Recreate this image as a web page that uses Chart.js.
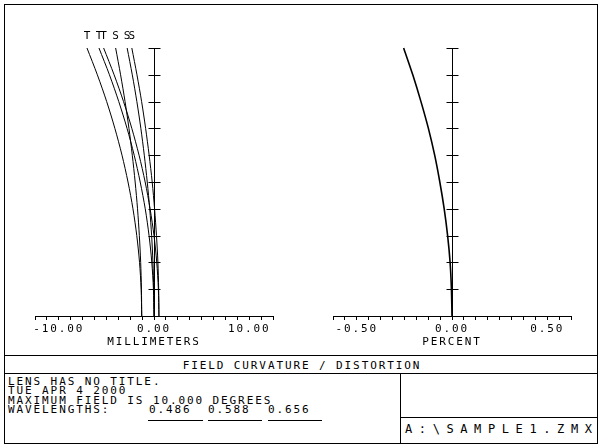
<!DOCTYPE html>
<html lang="en">
<head>
  <meta charset="UTF-8" />
  <title>Field Curvature / Distortion</title>
  <script src="https://cdn.jsdelivr.net/npm/chart.js"></script>
  <style>
    body { margin: 0; background: #fff; }
    #page { position: relative; width: 600px; height: 447px; overflow: hidden;
            font-family: "DejaVu Sans Mono", monospace; font-size: 11px; color: #000; }
    .frame { position: absolute; left: 4px; top: 4px; width: 592px; height: 438px; border: 1px solid #000; }
    .hline { position: absolute; height: 1px; background: #000; }
    .vline { position: absolute; width: 1px; background: #000; }
    .txt { position: absolute; white-space: pre; letter-spacing: 1.9px; line-height: 11px; }
    canvas { position: absolute; }
  </style>
</head>
<body>
<div id="page">
  <div class="frame"></div>

  <canvas id="curvChart" width="290" height="348" style="left:5px; top:5px;"></canvas>
  <canvas id="distChart" width="290" height="348" style="left:303px; top:5px;"></canvas>

  <!-- info block -->
  <div class="hline" style="left:4px; top:355px; width:593px;"></div>
  <div class="txt" style="left:0; top:360px; width:604px; text-align:center;">FIELD CURVATURE / DISTORTION</div>
  <div class="hline" style="left:4px; top:373px; width:593px;"></div>
  <div class="vline" style="left:400px; top:373px; height:70px;"></div>
  <div class="hline" style="left:400px; top:417px; width:197px;"></div>

  <div class="txt" style="left:8px; top:376px;">LENS HAS NO TITLE.</div>
  <div class="txt" style="left:8px; top:385px;">TUE APR 4 2000</div>
  <div class="txt" style="left:8px; top:395px;">MAXIMUM FIELD IS 10.000 DEGREES</div>
  <div class="txt" style="left:8px; top:404px;">WAVELENGTHS:</div>
  <div class="txt" style="left:149px; top:404px;">0.486</div>
  <div class="txt" style="left:208px; top:404px;">0.588</div>
  <div class="txt" style="left:268px; top:404px;">0.656</div>
  <div class="hline" style="left:148px; top:420px; width:55px;"></div>
  <div class="hline" style="left:208px; top:420px; width:54px;"></div>
  <div class="hline" style="left:268px; top:420px; width:54px;"></div>

  <div class="txt" style="left:405px; top:424px; font-size:12px; letter-spacing:6.6px;">A:\SAMPLE1.ZMX</div>
</div>

<script>
  // field angle (degrees), vertical axis of both plots
  const fieldDeg = [0, 1, 2, 3, 4, 5, 6, 7, 8, 9, 10];

  // field curvature in millimeters, tangential / sagittal per wavelength
  const tan486 = [-1.29, -1.35, -1.52, -1.81, -2.21, -2.73, -3.36, -4.11, -4.97, -5.95, -7.04];
  const tan588 = [0.00, -0.06, -0.23, -0.52, -0.92, -1.45, -2.08, -2.83, -3.70, -4.68, -5.78];
  const tan656 = [0.52, 0.46, 0.29, 0.00, -0.41, -0.93, -1.57, -2.33, -3.20, -4.19, -5.29];
  const sag486 = [-1.29, -1.32, -1.40, -1.54, -1.73, -1.98, -2.28, -2.63, -3.04, -3.51, -4.03];
  const sag588 = [0.00, -0.03, -0.11, -0.25, -0.45, -0.71, -1.02, -1.38, -1.80, -2.28, -2.82];
  const sag656 = [0.52, 0.49, 0.41, 0.26, 0.06, -0.19, -0.51, -0.88, -1.30, -1.79, -2.33];

  // distortion in percent
  const distortion = [0.000, -0.003, -0.010, -0.023, -0.041, -0.064, -0.091, -0.124, -0.163, -0.206, -0.254];

  const FONT = '"DejaVu Sans Mono", monospace';

  function pts(arr) {
    return fieldDeg.map((f, i) => ({ x: arr[i], y: f }));
  }

  function line(label, arr, width) {
    return {
      label: label,
      data: pts(arr),
      showLine: true,
      borderColor: '#000',
      borderWidth: width,
      pointRadius: 0,
      tension: 0.3,
      clip: false,
    };
  }

  // vertical axis through zero with crossing ticks, plus curve labels
  const centerAxis = {
    id: 'centerAxis',
    beforeDraw(chart) {
      chart.ctx.letterSpacing = '1.9px';
    },
    afterDatasetsDraw(chart) {
      const { ctx, scales: { x, y } } = chart;
      const x0 = Math.round(x.getPixelForValue(0)) + 0.5;
      ctx.save();
      ctx.strokeStyle = '#000';
      ctx.lineWidth = 1;
      ctx.beginPath();
      ctx.moveTo(x0, y.getPixelForValue(0));
      ctx.lineTo(x0, y.getPixelForValue(fieldDeg[fieldDeg.length - 1]));
      fieldDeg.forEach(f => {
        if (f === 0) return;
        const py = Math.round(y.getPixelForValue(f)) + 0.5;
        ctx.moveTo(x0 - 6, py);
        ctx.lineTo(x0 + 6, py);
      });
      ctx.stroke();

      ctx.fillStyle = '#000';
      ctx.font = '11px ' + FONT;
      ctx.letterSpacing = '0px';
      ctx.textAlign = 'center';
      ctx.textBaseline = 'middle';
      chart.data.datasets.forEach((ds, i) => {
        if (!ds.tag) return;
        const meta = chart.getDatasetMeta(i);
        const last = meta.data[meta.data.length - 1];
        ctx.fillText(ds.tag, last.x, 31);
      });
      ctx.restore();
    }
  };

  function axisX(min, max, step, isMajor, title) {
    return {
      type: 'linear',
      position: 'bottom',
      min: min,
      max: max,
      ticks: {
        stepSize: step,
        autoSkip: false,
        maxRotation: 0,
        minRotation: 0,
        padding: 3,
        color: '#000',
        font: { family: FONT, size: 11 },
        callback: v => (isMajor(v) ? v.toFixed(2) : ''),
      },
      grid: { drawOnChartArea: false, tickLength: 4, color: '#000', lineWidth: 1 },
      border: { display: true, color: '#000', width: 1 },
      title: {
        display: true,
        text: title,
        color: '#000',
        font: { family: FONT, size: 11 },
        padding: { top: 0, bottom: 4 },
      },
      afterFit: s => { s.height = 37; },
    };
  }

  const commonOpts = (xScale) => ({
    responsive: false,
    animation: false,
    layout: { padding: { left: 30, right: 22, top: 43, bottom: 0 } },
    plugins: { legend: { display: false }, tooltip: { enabled: false } },
    scales: {
      x: xScale,
      y: { type: 'linear', min: 0, max: 10, display: false },
    },
  });

  const curvSets = [
    line('T 0.486', tan486, 1),
    line('T 0.588', tan588, 1),
    line('T 0.656', tan656, 1),
    line('S 0.486', sag486, 1),
    line('S 0.588', sag588, 1),
    line('S 0.656', sag656, 1),
  ];
  ['T', 'T', 'T', 'S', 'S', 'S'].forEach((t, i) => { curvSets[i].tag = t; });

  new Chart(document.getElementById('curvChart'), {
    type: 'scatter',
    data: { datasets: curvSets },
    options: commonOpts(axisX(-12.5, 12.5, 1.25, v => Math.abs(v % 10) < 1e-9, 'MILLIMETERS')),
    plugins: [centerAxis],
  });

  new Chart(document.getElementById('distChart'), {
    type: 'scatter',
    data: { datasets: [line('Distortion', distortion, 1.6)] },
    options: commonOpts(axisX(-0.625, 0.625, 0.0625, v => Math.abs(v * 2 - Math.round(v * 2)) < 1e-9, 'PERCENT')),
    plugins: [centerAxis],
  });
</script>
</body>
</html>
